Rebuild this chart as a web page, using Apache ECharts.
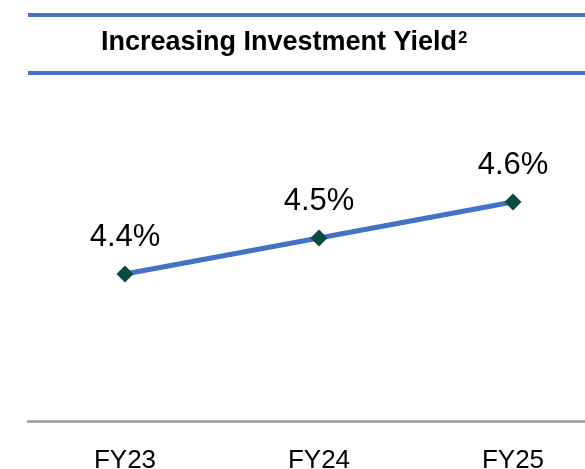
<!DOCTYPE html>
<html>
<head>
<meta charset="utf-8">
<script src="https://cdn.jsdelivr.net/npm/echarts@6/dist/echarts.min.js"></script>
<style>
html,body{margin:0;padding:0;background:#fff;}
#chart{width:585px;height:469px;}
</style>
</head>
<body>
<div id="chart"></div>
<script>
const titleText = 'Increasing Investment Yield';
const titleSup = '2';
const categories = ['FY23', 'FY24', 'FY25'];
const yieldValues = [4.4, 4.5, 4.6];

const chart = echarts.init(document.getElementById('chart'), null, {renderer: 'canvas'});
const FONT = '"Liberation Sans", Arial, sans-serif';
const option = {
  animation: false,
  backgroundColor: '#ffffff',
  graphic: [
    {type: 'line', shape: {x1: 28, y1: 15, x2: 585, y2: 15}, style: {stroke: '#4472C4', lineWidth: 4}},
    {type: 'line', shape: {x1: 28, y1: 73, x2: 585, y2: 73}, style: {stroke: '#4472C4', lineWidth: 4}},
    {type: 'text', x: 101, y: 43, style: {text: titleText, fill: '#000', font: 'bold 27px ' + FONT, textAlign: 'left', textVerticalAlign: 'middle'}},
    {type: 'text', x: 458, y: 38, style: {text: titleSup, fill: '#000', font: 'bold 17px ' + FONT, textAlign: 'left', textVerticalAlign: 'middle'}}
  ],
  grid: [
    {left: 125, right: 72, top: 130, bottom: 51, containLabel: false, outerBoundsMode: 'none'},
    {left: 28, right: 0, top: 130, bottom: 48, containLabel: false, outerBoundsMode: 'none'}
  ],
  xAxis: [
    {
      type: 'category', gridIndex: 0, data: categories, boundaryGap: false,
      axisLine: {show: false}, axisTick: {show: false},
      axisLabel: {color: '#000', fontSize: 26, fontFamily: FONT, margin: 30}
    },
    {
      type: 'category', gridIndex: 1, data: [], boundaryGap: false,
      axisLine: {show: true, lineStyle: {color: '#9a9a9a', width: 2.5}},
      axisTick: {show: false}, axisLabel: {show: false}
    }
  ],
  yAxis: [
    {type: 'value', gridIndex: 0, min: 4.0, max: 4.8, show: false},
    {type: 'value', gridIndex: 1, show: false}
  ],
  series: [{
    type: 'line',
    xAxisIndex: 0, yAxisIndex: 0,
    data: yieldValues,
    symbol: 'diamond',
    symbolSize: 17,
    lineStyle: {color: '#4472C4', width: 5},
    itemStyle: {color: '#0B4A40', borderWidth: 0},
    label: {
      show: true, position: 'top', distance: 13,
      formatter: p => p.value.toFixed(1) + '%',
      color: '#000', fontSize: 31, fontFamily: FONT
    }
  }]
};
chart.setOption(option);
</script>
</body>
</html>
